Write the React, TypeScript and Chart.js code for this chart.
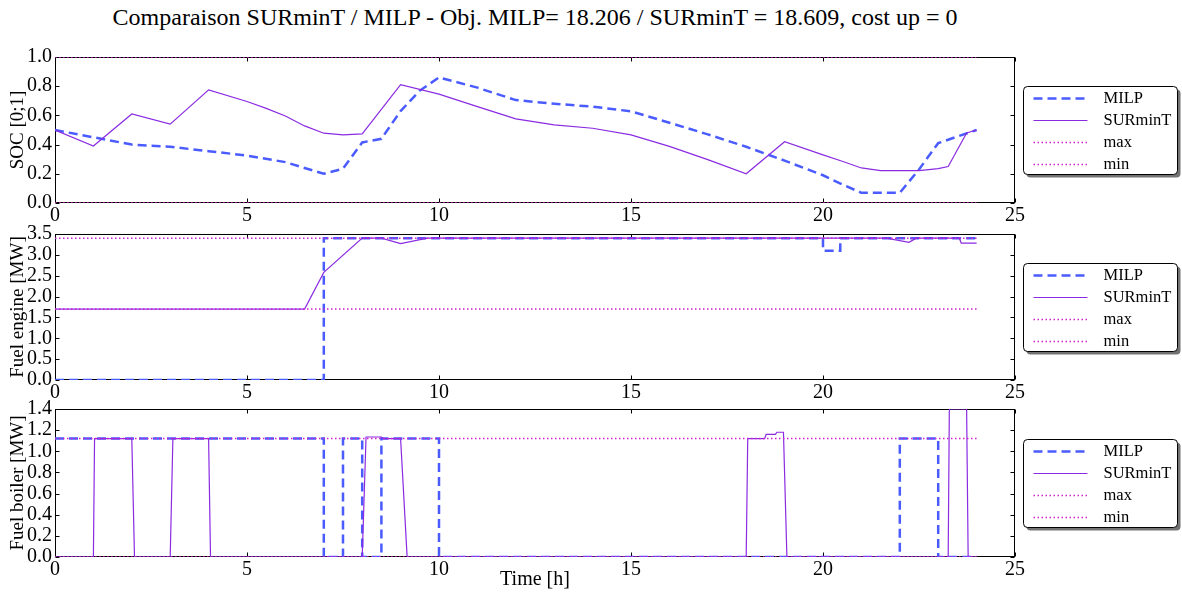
import React, { useEffect, useRef } from "react";
import { Chart, registerables } from "chart.js";

Chart.register(...registerables);

const FONT = "'Liberation Serif', 'Times New Roman', Times, serif";

const TITLE =
  "Comparaison SURminT / MILP - Obj. MILP= 18.206 / SURminT = 18.609, cost up = 0";
const X_TICKS = [0, 5, 10, 15, 20, 25];
const BOUND_T = [0, 24];

// ---- Panel 1 : SOC ----
const socYTicks = [0, 0.2, 0.4, 0.6, 0.8, 1.0];
const socMilpT = [0, 1, 2, 3, 4, 5, 6, 7, 7.5, 8, 8.5, 9, 9.5, 10, 11, 12, 13, 14, 15, 16, 17, 18, 19, 20, 20.5, 21, 22, 22.5, 23, 23.5, 24];
const socMilpV = [0.5, 0.45, 0.4, 0.385, 0.355, 0.325, 0.28, 0.2, 0.235, 0.415, 0.44, 0.63, 0.77, 0.86, 0.79, 0.705, 0.68, 0.66, 0.628, 0.55, 0.47, 0.385, 0.29, 0.19, 0.127, 0.07, 0.07, 0.23, 0.41, 0.455, 0.5];
const socSurT = [0, 1, 2, 3, 4, 5, 5.5, 6, 6.5, 7, 7.5, 8, 9, 10, 11, 12, 13, 14, 15, 16, 17, 18, 19, 20, 20.5, 21, 21.5, 22, 22.5, 23, 23.26, 23.74, 24];
const socSurV = [0.5, 0.39, 0.61, 0.54, 0.775, 0.695, 0.648, 0.596, 0.528, 0.478, 0.467, 0.474, 0.81, 0.746, 0.66, 0.576, 0.535, 0.512, 0.467, 0.388, 0.297, 0.2, 0.42, 0.33, 0.286, 0.24, 0.222, 0.222, 0.222, 0.235, 0.25, 0.48, 0.5];
const socMax = 1.0;
const socMin = 0.0;

// ---- Panel 2 : Fuel engine ----
const engYTicks = [0, 0.5, 1.0, 1.5, 2.0, 2.5, 3.0, 3.5];
const engMilpT = [0, 7, 7, 20, 20, 20.45, 20.45, 24];
const engMilpV = [0, 0, 3.4, 3.4, 3.1, 3.1, 3.4, 3.4];
const engSurT = [0, 6.5, 7, 8, 8.5, 9, 9.7, 21.65, 22.24, 22.43, 23.55, 23.6, 24];
const engSurV = [1.7, 1.7, 2.58, 3.4, 3.4, 3.27, 3.4, 3.4, 3.3, 3.4, 3.4, 3.28, 3.28];
const engMax = 3.4;
const engMin = 1.7;

// ---- Panel 3 : Fuel boiler ----
const boilYTicks = [0, 0.2, 0.4, 0.6, 0.8, 1.0, 1.2, 1.4];
const boilMilpT = [0, 7, 7, 7.5, 7.5, 8, 8, 8.5, 8.5, 10, 10, 22, 22, 23, 23, 24];
const boilMilpV = [1.12, 1.12, 0, 0, 1.12, 1.12, 0, 0, 1.12, 1.12, 0, 0, 1.12, 1.12, 0, 0];
const boilSurT = [0, 1, 1.03, 2, 2.07, 3, 3.07, 4, 4.05, 8, 8.1, 8.5, 8.55, 9, 9.17, 18, 18.04, 18.48, 18.52, 18.76, 18.8, 18.97, 19.06, 23.26, 23.29, 23.74, 23.78, 24];
const boilSurV = [0, 0, 1.12, 1.12, 0, 0, 1.12, 1.12, 0, 0, 1.135, 1.135, 1.12, 1.12, 0, 0, 1.12, 1.12, 1.16, 1.16, 1.18, 1.18, 0, 0, 1.4, 1.4, 0, 0];
const boilMax = 1.12;
const boilMin = 0.0;

const COLORS = { milp: "#4a5cff", sur: "#8a2be2", bound: "#cc22cc" };

const W = 1182;
const H = 595;
const PLOT_LEFT = 55;
const PLOT_RIGHT = 1015;

type Panel = {
  yTitle: string;
  yTicks: number[];
  top: number;
  bottom: number;
  xTitle?: string;
  milpT: number[];
  milpV: number[];
  surT: number[];
  surV: number[];
  max: number;
  min: number;
};

const PANELS: Panel[] = [
  { yTitle: "SOC [0;1]", yTicks: socYTicks, top: 57, bottom: 203, milpT: socMilpT, milpV: socMilpV, surT: socSurT, surV: socSurV, max: socMax, min: socMin },
  { yTitle: "Fuel engine [MW]", yTicks: engYTicks, top: 234, bottom: 380, milpT: engMilpT, milpV: engMilpV, surT: engSurT, surV: engSurV, max: engMax, min: engMin },
  { yTitle: "Fuel boiler [MW]", yTicks: boilYTicks, top: 409, bottom: 557, xTitle: "Time [h]", milpT: boilMilpT, milpV: boilMilpV, surT: boilSurT, surV: boilSurV, max: boilMax, min: boilMin },
];

function pts(t: number[], v: number[]) {
  return t.map((x, i) => ({ x, y: v[i] }));
}

const framePlugin = {
  id: "frameTicks",
  beforeDatasetsDraw(chart: any) {
    const { ctx, chartArea: a, scales } = chart;
    ctx.save();
    ctx.strokeStyle = "#000";
    ctx.lineWidth = 1;
    ctx.setLineDash([]);
    const L = Math.round(a.left) + 0.5;
    const R = Math.round(a.right) - 0.5;
    const T = Math.round(a.top) + 0.5;
    const B = Math.round(a.bottom) - 0.5;
    ctx.strokeRect(L, T, R - L, B - T);
    const len = 4;
    ctx.beginPath();
    scales.x.ticks.forEach((t: any) => {
      const p = Math.round(scales.x.getPixelForValue(t.value)) + 0.5;
      ctx.moveTo(p, B);
      ctx.lineTo(p, B - len);
      ctx.moveTo(p, T);
      ctx.lineTo(p, T + len);
    });
    scales.y.ticks.forEach((t: any) => {
      const p = Math.round(scales.y.getPixelForValue(t.value)) + 0.5;
      ctx.moveTo(L, p);
      ctx.lineTo(L + len, p);
      ctx.moveTo(R, p);
      ctx.lineTo(R - len, p);
    });
    ctx.stroke();
    ctx.restore();
  },
};

function roundRect(ctx: CanvasRenderingContext2D, x: number, y: number, w: number, h: number, r: number) {
  ctx.beginPath();
  ctx.moveTo(x + r, y);
  ctx.lineTo(x + w - r, y);
  ctx.arcTo(x + w, y, x + w, y + r, r);
  ctx.lineTo(x + w, y + h - r);
  ctx.arcTo(x + w, y + h, x + w - r, y + h, r);
  ctx.lineTo(x + r, y + h);
  ctx.arcTo(x, y + h, x, y + h - r, r);
  ctx.lineTo(x, y + r);
  ctx.arcTo(x, y, x + r, y, r);
  ctx.closePath();
}

const legendPlugin = {
  id: "boxLegend",
  afterDraw(chart: any) {
    const { ctx, chartArea: a } = chart;
    const x0 = 1023.5;
    const w = 154;
    const h = 88;
    const y0 = Math.round((a.top + a.bottom) / 2 - h / 2) + 0.5;
    ctx.save();
    ctx.fillStyle = "rgba(0,0,0,0.55)";
    roundRect(ctx, x0 + 3, y0 + 3, w, h, 4);
    ctx.fill();
    ctx.fillStyle = "#fff";
    roundRect(ctx, x0, y0, w, h, 4);
    ctx.fill();
    ctx.strokeStyle = "#000";
    ctx.lineWidth = 1;
    ctx.stroke();
    chart.data.datasets.forEach((ds: any, i: number) => {
      const y = y0 + 12 + i * 22;
      ctx.strokeStyle = ds.borderColor;
      ctx.lineWidth = ds.borderWidth;
      ctx.setLineDash(ds.borderDash || []);
      ctx.beginPath();
      ctx.moveTo(x0 + 10, y);
      ctx.lineTo(x0 + 64, y);
      ctx.stroke();
      ctx.setLineDash([]);
      ctx.fillStyle = "#000";
      ctx.font = `16.5px ${FONT}`;
      ctx.textBaseline = "middle";
      ctx.textAlign = "left";
      ctx.fillText(ds.label, x0 + 80, y);
    });
    ctx.restore();
  },
};

function makeChart(canvas: HTMLCanvasElement, p: Panel) {
  const xh = p.xTitle ? H - p.bottom : 24;
  return new Chart(canvas, {
    type: "line",
    data: {
      datasets: [
        { label: "MILP", data: pts(p.milpT, p.milpV), borderColor: COLORS.milp, borderWidth: 2.5, borderDash: [9, 5], order: 3 },
        { label: "SURminT", data: pts(p.surT, p.surV), borderColor: COLORS.sur, borderWidth: 1.2, order: 2 },
        { label: "max", data: pts(BOUND_T, [p.max, p.max]), borderColor: COLORS.bound, borderWidth: 1.5, borderDash: [1.5, 2.5], order: 1 },
        { label: "min", data: pts(BOUND_T, [p.min, p.min]), borderColor: COLORS.bound, borderWidth: 1.5, borderDash: [1.5, 2.5], order: 0 },
      ],
    } as any,
    options: {
      responsive: false,
      animation: false,
      devicePixelRatio: 1,
      events: [],
      layout: {
        autoPadding: false,
        padding: { left: 0, right: W - PLOT_RIGHT, top: p.top, bottom: H - p.bottom - xh },
      },
      elements: { point: { radius: 0, hoverRadius: 0 }, line: { tension: 0, fill: false } },
      plugins: { legend: { display: false }, tooltip: { enabled: false }, title: { display: false } },
      scales: {
        x: {
          type: "linear",
          min: 0,
          max: 25,
          afterBuildTicks: (s: any) => {
            s.ticks = X_TICKS.map((v) => ({ value: v }));
          },
          afterFit: (s: any) => {
            s.height = xh;
          },
          grid: { display: false, drawTicks: false },
          border: { display: false },
          ticks: {
            color: "#000",
            padding: 1,
            maxRotation: 0,
            autoSkip: false,
            font: { family: FONT, size: 20 },
            callback: (v: any) => String(v),
          },
          title: {
            display: !!p.xTitle,
            text: p.xTitle || "",
            color: "#000",
            font: { family: FONT, size: 20 },
            padding: { top: 0, bottom: 3 },
          },
        },
        y: {
          type: "linear",
          min: p.yTicks[0],
          max: p.yTicks[p.yTicks.length - 1],
          afterBuildTicks: (s: any) => {
            s.ticks = p.yTicks.map((v) => ({ value: v }));
          },
          afterFit: (s: any) => {
            s.width = PLOT_LEFT;
          },
          grid: { display: false, drawTicks: false },
          border: { display: false },
          ticks: {
            color: "#000",
            padding: 3,
            autoSkip: false,
            font: { family: FONT, size: 20 },
            callback: (v: any) => Number(v).toFixed(1),
          },
          title: {
            display: true,
            text: p.yTitle,
            color: "#000",
            font: { family: FONT, size: 19 },
            padding: { top: 7, bottom: 0 },
          },
        },
      },
    } as any,
    plugins: [framePlugin, legendPlugin],
  });
}

function PanelCanvas({ panel }: { panel: Panel }) {
  const ref = useRef<HTMLCanvasElement | null>(null);
  useEffect(() => {
    if (!ref.current) return;
    const chart = makeChart(ref.current, panel);
    return () => chart.destroy();
  }, [panel]);
  return (
    <canvas
      ref={ref}
      width={W}
      height={H}
      style={{ position: "absolute", left: 0, top: 0, width: W, height: H }}
    />
  );
}

export default function App() {
  return (
    <div
      style={{
        position: "fixed",
        left: 0,
        top: 0,
        width: W,
        height: H,
        background: "#fff",
        overflow: "hidden",
      }}
    >
      <div
        style={{
          position: "absolute",
          left: 0,
          top: 3,
          width: PLOT_LEFT + PLOT_RIGHT,
          textAlign: "center",
          font: `24px ${FONT}`,
          lineHeight: "28px",
          whiteSpace: "nowrap",
          color: "#000",
        }}
      >
        {TITLE}
      </div>
      {PANELS.map((p, i) => (
        <PanelCanvas key={i} panel={p} />
      ))}
    </div>
  );
}
